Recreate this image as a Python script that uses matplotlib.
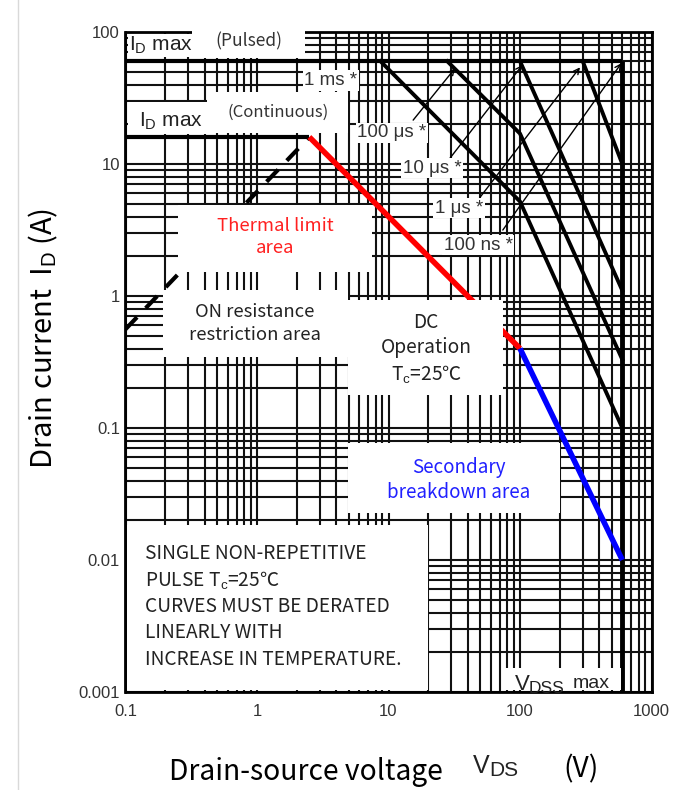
import matplotlib.pyplot as plt
from matplotlib.patches import Rectangle
from matplotlib.lines import Line2D
from matplotlib.ticker import NullFormatter, LogLocator

plt.rcParams['mathtext.fontset'] = 'custom'
plt.rcParams['mathtext.rm'] = 'Liberation Sans'
plt.rcParams['mathtext.it'] = 'Liberation Sans'

KR = ['Noto Sans CJK KR', 'DejaVu Sans']
AR = ['Liberation Sans', 'DejaVu Sans']

# axis ticks
x_ticks = [0.1, 1, 10, 100, 1000]
x_ticklabels = ['0.1', '1', '10', '100', '1000']
y_ticks = [0.001, 0.01, 0.1, 1, 10, 100]
y_ticklabels = ['0.001', '0.01', '0.1', '1', '10', '100']

# SOA boundary lines (V, A)
id_pulsed_v = [0.1, 600]
id_pulsed_i = [60, 60]
vdss_v = [600, 600]
vdss_i = [0.001, 60]
id_cont_v = [0.1, 2.5]
id_cont_i = [16, 16]
ron_v = [0.1, 2.5]
ron_i = [0.56, 16]
thermal_v = [2.5, 100]
thermal_i = [16, 0.4]
sb_v = [100, 600]
sb_i = [0.4, 0.01]

# single pulse curves
pulse_v = [[8.7, 100, 600], [28, 100, 600], [100, 600], [300, 600]]
pulse_i = [[60, 5.2, 0.1], [60, 17, 0.33], [60, 1.1], [60, 10]]
pulse_labels = ['1 ms *', '100 μs *', '10 μs *', '1 μs *', '100 ns *']

fig = plt.figure(figsize=(6.91, 7.90), dpi=100)
ax = fig.add_axes([125.5 / 691, 98 / 790, 526 / 691, 660 / 790])
ax.set_xscale('log')
ax.set_yscale('log')
ax.set_xlim(0.1, 1000)
ax.set_ylim(0.001, 100)

ax.xaxis.set_minor_locator(LogLocator(base=10, subs=range(2, 10)))
ax.yaxis.set_minor_locator(LogLocator(base=10, subs=range(2, 10)))
ax.xaxis.set_minor_formatter(NullFormatter())
ax.yaxis.set_minor_formatter(NullFormatter())
ax.set_xticks(x_ticks, labels=x_ticklabels)
ax.set_yticks(y_ticks, labels=y_ticklabels)
ax.tick_params(which='both', length=0)
ax.tick_params(axis='x', pad=9)
ax.tick_params(axis='y', pad=4)
for lab in ax.get_xticklabels() + ax.get_yticklabels():
    lab.set_family(AR)
    lab.set_fontsize(12)
    lab.set_color('#333333')

ax.grid(True, which='both', color='#111111', lw=1.5)
ax.set_axisbelow(True)
for s in ax.spines.values():
    s.set_linewidth(2)
    s.set_zorder(2.5)

# curves
ax.plot(id_pulsed_v, id_pulsed_i, color='black', lw=3, zorder=2, solid_capstyle='butt')
ax.plot(vdss_v, vdss_i, color='black', lw=3.5, zorder=2, solid_capstyle='butt')
ax.plot(id_cont_v, id_cont_i, color='black', lw=3, zorder=2, solid_capstyle='butt')
ax.plot(ron_v, ron_i, color='black', lw=3, ls=(0, (4, 3)), zorder=2)
for pv, pi in zip(pulse_v, pulse_i):
    ax.plot(pv, pi, color='black', lw=2.8, zorder=2)
ax.plot(thermal_v, thermal_i, color='#ff0000', lw=4, zorder=2.2, solid_capstyle='butt')
ax.plot(sb_v, sb_i, color='#0000ff', lw=4, zorder=2.2, solid_capstyle='butt')

# white masks behind annotations (x0, x1, y0, y1 in data units)
masks = [
    (0.104, 0.32, 64.5, 96),      # ID max (pulsed)
    (0.32, 2.3, 63.5, 112),       # (Pulsed)
    (0.104, 0.417, 17.0, 29.5),   # ID max (continuous)
    (0.417, 4.9, 17.2, 35),       # (Continuous)
    (0.25, 7.5, 1.52, 4.9),       # thermal
    (0.193, 4.9, 0.345, 1.11),    # ON resistance
    (4.9, 74, 0.178, 0.93),       # DC
    (4.9, 200, 0.0227, 0.077),    # secondary breakdown
    (0.103, 20, 0.00103, 0.0184), # note
    (74, 585, 0.00103, 0.00152),  # VDSS max
]
for x0, x1, y0, y1 in masks:
    ax.add_patch(Rectangle((x0, y0), x1 - x0, y1 - y0, facecolor='white',
                           edgecolor='none', zorder=3, clip_on=False))

# pulse labels and arrows
label_pos = [(3.65, 43), (10.6, 17.2), (21.4, 9.3), (34.4, 4.64), (48, 2.43)]
for (lx, ly), txt in zip(label_pos, pulse_labels):
    ax.text(lx, ly, txt, ha='center', va='center', fontsize=13.5, family=AR,
            color='#333333', zorder=4,
            bbox=dict(facecolor='white', edgecolor='none', pad=1.2))
arrows = [((15.4, 21.5), (32, 53)), ((29.4, 11.1), (104, 56)),
          ((49.7, 5.6), (286, 54)), ((74, 3.16), (590, 58))]
for start, tip in arrows:
    ax.annotate('', xy=tip, xytext=start, zorder=2.1,
                arrowprops=dict(arrowstyle='->', lw=1, color='black',
                                shrinkA=0, shrinkB=0))

ax.text(0.186, 79, r'I$_{\mathrm{D}}$ max', ha='center', va='center',
        fontsize=15, family=AR, color='#222222', zorder=4)
ax.text(0.86, 85, '(Pulsed)', ha='center', va='center', fontsize=12.5,
        family=KR, color='#333333', zorder=4)
ax.text(0.222, 21.2, r'I$_{\mathrm{D}}$ max', ha='center', va='center',
        fontsize=15, family=AR, color='#222222', zorder=4)
ax.text(1.45, 24.8, '(Continuous)', ha='center', va='center', fontsize=12,
        family=KR, color='#333333', zorder=4)

ax.text(1.37, 2.8, 'Thermal limit\narea', ha='center', va='center',
        fontsize=13.3, family=KR, color='#ff2020', zorder=4, linespacing=1.3)
ax.text(0.966, 0.62, 'ON resistance\nrestriction area', ha='center',
        va='center', fontsize=13.3, family=KR, color='#222222', zorder=4,
        linespacing=1.3)
ax.text(19.3, 0.40, 'DC\nOperation\nT$_{\\mathrm{c}}$=25℃', ha='center',
        va='center', fontsize=13.8, family=KR, color='#222222', zorder=4,
        linespacing=1.25)
ax.text(34.4, 0.0404, 'Secondary\nbreakdown area', ha='center', va='center',
        fontsize=13.5, family=KR, color='#2020ff', zorder=4, linespacing=1.25)
ax.text(0.141, 0.0135,
        'SINGLE NON-REPETITIVE\nPULSE T$_{\\mathrm{c}}$=25℃\n'
        'CURVES MUST BE DERATED\nLINEARLY WITH\nINCREASE IN TEMPERATURE.',
        ha='left', va='top', fontsize=13.8, family=KR, color='#222222',
        zorder=4, linespacing=1.32)

# VDSS max label, with the subscript set a little smaller
ax.text(104, 0.00113, 'V', ha='center', va='center', fontsize=16,
        family=AR, color='#222222', zorder=4)
ax.text(160, 0.00106, 'DSS', ha='center', va='center', fontsize=12.5,
        family=AR, color='#222222', zorder=4)
ax.text(350, 0.00115, 'max', ha='center', va='center', fontsize=14,
        family=AR, color='#222222', zorder=4)

# axis titles
fig.text(43 / 691, 1 - 338 / 790, r'Drain current  I$_{\mathrm{D}}$ (A)',
         rotation=90, ha='center', va='center', fontsize=21, family=KR)
fig.text(169 / 691, 1 - 772 / 790, 'Drain-source voltage', ha='left',
         va='center', fontsize=20.3, family=KR)
fig.text(473 / 691, 1 - 766 / 790, 'V', ha='left', va='center',
         fontsize=18, family=AR, color='#222222')
fig.text(489 / 691, 1 - 771 / 790, 'DS', ha='left', va='center',
         fontsize=15, family=AR, color='#222222')
fig.text(563 / 691, 1 - 769 / 790, '(V)', ha='left', va='center',
         fontsize=20.3, family=KR)

fig.add_artist(Line2D([18 / 691, 18 / 691], [0, 1], color='#d9d9d9', lw=1))

fig.savefig('out.png', dpi=100)
